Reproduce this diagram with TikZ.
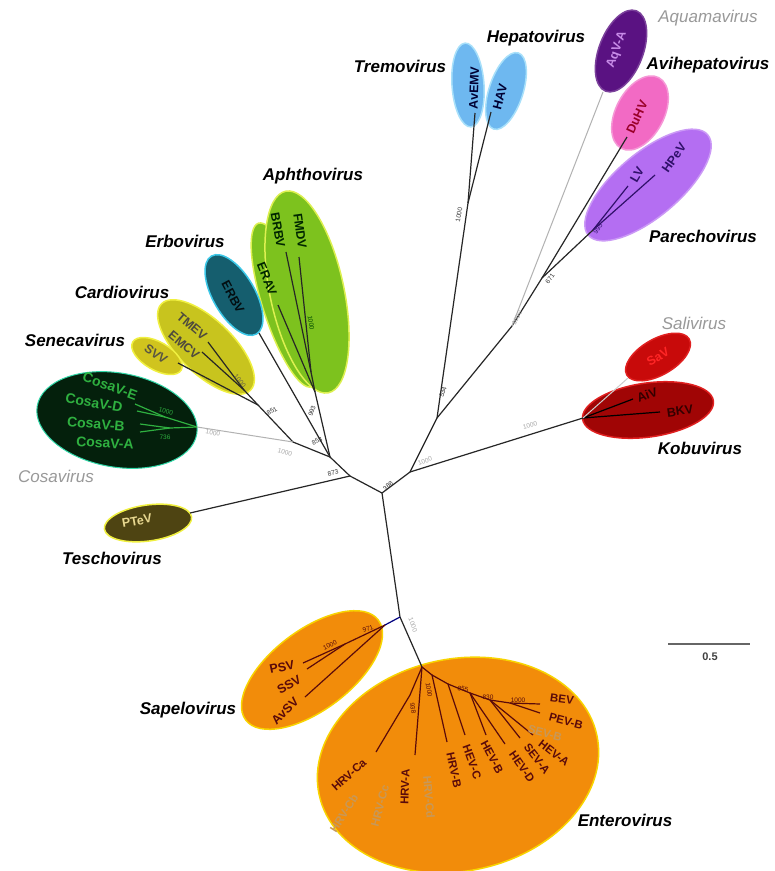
\documentclass[tikz,border=0pt]{standalone}
\usepackage{fontspec}
\setmainfont{Liberation Sans}
\usetikzlibrary{shapes.geometric}
\definecolor{cTremo}{HTML}{6EB8F0}
\definecolor{cTremoB}{HTML}{A8E0FA}
\definecolor{cAqua}{HTML}{5A1282}
\definecolor{cAquaT}{HTML}{C88CE8}
\definecolor{cAvi}{HTML}{F26AC4}
\definecolor{cAviT}{HTML}{9A0028}
\definecolor{cPare}{HTML}{B46EF2}
\definecolor{cPareT}{HTML}{30106A}
\definecolor{cSali}{HTML}{C80A0A}
\definecolor{cKobu}{HTML}{A00505}
\definecolor{cKobuB}{HTML}{E02020}
\definecolor{cAph}{HTML}{7DC21E}
\definecolor{cAphB}{HTML}{DDF050}
\definecolor{cErb}{HTML}{155E6E}
\definecolor{cErbB}{HTML}{3CC8E8}
\definecolor{cCard}{HTML}{C8C41E}
\definecolor{cCardB}{HTML}{F0F040}
\definecolor{cSene}{HTML}{D0C41E}
\definecolor{cCosa}{HTML}{04200C}
\definecolor{cCosaB}{HTML}{30D8A8}
\definecolor{cCosaT}{HTML}{2FB040}
\definecolor{cTesc}{HTML}{4E4412}
\definecolor{cTescT}{HTML}{E8D890}
\definecolor{cOra}{HTML}{F28C0A}
\definecolor{cOraB}{HTML}{F8D400}
\definecolor{cOraT}{HTML}{5A0A0A}
\definecolor{cFade}{HTML}{C89858}
\begin{document}
\begin{tikzpicture}[x=1pt,y=-1pt,
  clade/.style={ellipse, inner sep=0pt, line width=1.5pt},
  genus/.style={font=\bfseries\itshape\fontsize{17}{17}\selectfont, inner sep=0pt},
  tip/.style={font=\bfseries\fontsize{12.5}{13}\selectfont, inner sep=0pt},
  etip/.style={font=\bfseries\fontsize{11.5}{12}\selectfont, inner sep=0pt, text=cOraT},
  bs/.style={font=\fontsize{6.5}{7}\selectfont, inner sep=0pt, text=black!80},
  bsg/.style={bs, text=black!35},
  br/.style={line width=1.2pt, black!85},
  grbr/.style={line width=1pt, black!30},
  inbr/.style={line width=1.2pt, cOraT}]
\useasboundingbox (0,0) rectangle (775,871);
\fill[white] (0,0) rectangle (775,871);

% ---------- clade ellipses ----------
\node[clade, fill=cTremo, draw=cTremoB, minimum width=84pt, minimum height=32pt, rotate=94] (eTremo) at (468,85) {};
\node[clade, fill=cTremo, draw=cTremoB, minimum width=80pt, minimum height=34pt, rotate=72] (eHepa) at (506,91) {};
\node[clade, fill=cAqua, draw=cAqua!80!white, minimum width=86pt, minimum height=44pt, rotate=69] (eAqua) at (621,51) {};
\node[clade, fill=cAvi, draw=cAvi!70!white, minimum width=80pt, minimum height=48pt, rotate=62] (eAvi) at (640,113) {};
\node[clade, fill=cPare, draw=cPare!70!white, minimum width=156pt, minimum height=64pt, rotate=40] (ePare) at (648,185) {};
\node[clade, fill=cSali, draw=cKobuB, minimum width=72pt, minimum height=36pt, rotate=30] (eSali) at (658,357) {};
\node[clade, fill=cKobu, draw=cKobuB, minimum width=132pt, minimum height=54pt, rotate=8] (eKobu) at (648,410) {};
\node[clade, fill=cAph, draw=cAphB, minimum width=172pt, minimum height=44pt, rotate=108] (eErav) at (285,305) {};
\node[clade, fill=cAph, draw=cAphB, minimum width=206pt, minimum height=74pt, rotate=102] (eAph) at (307,292) {};
\node[clade, fill=cErb, draw=cErbB, minimum width=90pt, minimum height=42pt, rotate=120] (eErb) at (234,295) {};
\node[clade, fill=cCard, draw=cCardB, minimum width=124pt, minimum height=54pt, rotate=136] (eCard) at (206,347) {};
\node[clade, fill=cSene, draw=cCardB, minimum width=56pt, minimum height=28pt, rotate=150] (eSene) at (157,356) {};
\node[clade, fill=cCosa, draw=cCosaB, line width=1pt, minimum width=162pt, minimum height=94pt, rotate=-10] (eCosa) at (117,420) {};
\node[clade, fill=cTesc, draw=cCardB, minimum width=88pt, minimum height=36pt, rotate=8] (eTesc) at (148,523) {};
\node[clade, fill=cOra, draw=cOraB, minimum width=166pt, minimum height=80pt, rotate=37] (eSape) at (312,670) {};
\node[clade, fill=cOra, draw=cOraB, minimum width=284pt, minimum height=212pt, rotate=12] (eEnte) at (458,765) {};

% ---------- tree coordinates ----------
\coordinate (R) at (382,493);
\coordinate (K) at (410,472);
\coordinate (H) at (437,418);
\coordinate (TH) at (468,203);
\coordinate (tAvEMV) at (475,113);
\coordinate (tHAV) at (491,112);
\coordinate (P1) at (512,326);
\coordinate (tAqV) at (603,92);
\coordinate (P2) at (542,278);
\coordinate (tDuHV) at (627,137);
\coordinate (PN) at (593,230);
\coordinate (tLV) at (628,186);
\coordinate (tHPeV) at (655,175);
\coordinate (KB) at (583,418);
\coordinate (tAiV) at (633,399);
\coordinate (tBKV) at (660,412);
\coordinate (tSaV) at (628,378);
\coordinate (A) at (350,476);
\coordinate (tPTeV) at (190,513);
\coordinate (B) at (330,457);
\coordinate (F) at (318,405);
\coordinate (AF1) at (315,392);
\coordinate (tERAV) at (278,305);
\coordinate (AF2) at (311,372);
\coordinate (tFMDV) at (299,257);
\coordinate (tBRBV) at (286,252);
\coordinate (tERBV) at (259,333);
\coordinate (C) at (293,442);
\coordinate (CN) at (197,427);
\coordinate (CED) at (165,417);
\coordinate (tCosaE) at (135,404);
\coordinate (tCosaD) at (137,411);
\coordinate (CBA) at (170,428);
\coordinate (tCosaB) at (140,424);
\coordinate (tCosaA) at (140,432);
\coordinate (D) at (258,405);
\coordinate (tSVV) at (178,363);
\coordinate (CD) at (244,390);
\coordinate (tTMEV) at (208,342);
\coordinate (tEMCV) at (202,352);
\coordinate (S) at (400,617);
\coordinate (SP) at (385,625);
\coordinate (SP2) at (345,644);
\coordinate (tPSV) at (303,663);
\coordinate (tSSV) at (307,669);
\coordinate (tAvSV) at (305,697);
\coordinate (EN) at (422,667);
\coordinate (EC) at (410,695);
\coordinate (tHRVCa) at (376,752);
\coordinate (tHRVA) at (415,755);
\coordinate (E1) at (432,675);
\coordinate (tHRVB) at (447,742);
\coordinate (E2) at (448,684);
\coordinate (tHEVC) at (465,735);
\coordinate (E3) at (470,693);
\coordinate (tHEVB) at (486,735);
\coordinate (tHEVD) at (505,744);
\coordinate (E4) at (490,700);
\coordinate (tSEVA) at (520,738);
\coordinate (tHEVA) at (533,735);
\coordinate (E5) at (510,703);
\coordinate (tBEV) at (540,704);
\coordinate (tPEVB) at (540,713);

% ---------- branches ----------
\draw[br] (R) -- (K) -- (H) -- (TH);
\draw[br] (TH) -- (tAvEMV);
\draw[br] (TH) -- (tHAV);
\draw[br] (H) -- (P1) -- (P2) -- (PN);
\draw[grbr] (P1) -- (tAqV);
\draw[br] (P2) -- (tDuHV);
\draw[br, cPareT] (PN) -- (tLV);
\draw[br, cPareT] (PN) -- (tHPeV);
\draw[br] (K) -- (KB);
\draw[br, black] (KB) -- (tAiV);
\draw[br, black] (KB) -- (tBKV);
\draw[grbr, black!20] (KB) -- (tSaV);
\draw[br] (R) -- (A) -- (tPTeV);
\draw[br] (A) -- (B) -- (F) -- (AF1) -- (tERAV);
\draw[br] (AF1) -- (AF2) -- (tFMDV);
\draw[br] (AF2) -- (tBRBV);
\draw[br] (B) -- (tERBV);
\draw[br] (B) -- (C) -- (D) -- (tSVV);
\draw[br] (D) -- (CD) -- (tTMEV);
\draw[br] (CD) -- (tEMCV);
\draw[grbr] (C) -- (CN);
\draw[br, cCosaT] (CN) -- (CED) -- (tCosaE);
\draw[br, cCosaT] (CED) -- (tCosaD);
\draw[br, cCosaT] (CN) -- (CBA) -- (tCosaB);
\draw[br, cCosaT] (CBA) -- (tCosaA);
\draw[br] (R) -- (S) -- (EN);
\draw[br, black!50!blue] (S) -- (SP);
\draw[inbr] (SP) -- (SP2) -- (tPSV);
\draw[inbr] (SP2) -- (tSSV);
\draw[inbr] (SP) -- (tAvSV);
\draw[inbr] (EN) -- (EC) -- (tHRVCa);
\draw[inbr] (EN) -- (tHRVA);
\draw[inbr] (EN) -- (E1) -- (tHRVB);
\draw[inbr] (E1) -- (E2) -- (tHEVC);
\draw[inbr] (E2) -- (E3) -- (tHEVB);
\draw[inbr] (E3) -- (tHEVD);
\draw[inbr] (E3) -- (E4) -- (tSEVA);
\draw[inbr] (E4) -- (tHEVA);
\draw[inbr] (E4) -- (E5) -- (tBEV);
\draw[inbr] (E5) -- (tPEVB);

% ---------- tip labels ----------
\node[tip, text=black!80!blue, rotate=88] (lAvEMV) at (474,88) {AvEMV};
\node[tip, text=black!80!blue, rotate=75] (lHAV) at (500,97) {HAV};
\node[tip, text=cAquaT, rotate=70] (lAqV) at (617,50) {AqV-A};
\node[tip, text=cAviT, rotate=65] (lDuHV) at (637,117) {DuHV};
\node[tip, text=cPareT, rotate=60] (lLV) at (637,175) {LV};
\node[tip, text=cPareT, rotate=55] (lHPeV) at (674,158) {HPeV};
\node[tip, text=black!80!red, rotate=20] (lAiV) at (647,395) {AiV};
\node[tip, text=black!80!red, rotate=8] (lBKV) at (680,411) {BKV};
\node[tip, text=red!85!white, rotate=30] (lSaV) at (658,357) {SaV};
\node[tip, text=black!85!green, rotate=-82] (lFMDV) at (300,231) {FMDV};
\node[tip, text=black!85!green, rotate=-80] (lBRBV) at (278,230) {BRBV};
\node[tip, text=black!85!green, rotate=-68] (lERAV) at (267,279) {ERAV};
\node[tip, text=black!85!cErb, rotate=-62] (lERBV) at (233,297) {ERBV};
\node[tip, text=black!80!yellow, rotate=-40] (lTMEV) at (192,326) {TMEV};
\node[tip, text=black!80!yellow, rotate=-40] (lEMCV) at (184,345) {EMCV};
\node[tip, text=black!75!yellow, rotate=-35] (lSVV) at (156,354) {SVV};
\node[tip, font=\bfseries\fontsize{14}{14}\selectfont, text=cCosaT, rotate=-20] (lCosaE) at (110,386) {CosaV-E};
\node[tip, font=\bfseries\fontsize{14}{14}\selectfont, text=cCosaT, rotate=-10] (lCosaD) at (94,403) {CosaV-D};
\node[tip, font=\bfseries\fontsize{14}{14}\selectfont, text=cCosaT, rotate=-5] (lCosaB) at (96,424) {CosaV-B};
\node[tip, font=\bfseries\fontsize{14}{14}\selectfont, text=cCosaT, rotate=-3] (lCosaA) at (105,443) {CosaV-A};
\node[tip, text=cTescT, rotate=10] (lPTeV) at (137,521) {PTeV};
\node[tip, text=cOraT, rotate=12] (lPSV) at (282,667) {PSV};
\node[tip, text=cOraT, rotate=30] (lSSV) at (289,685) {SSV};
\node[tip, text=cOraT, rotate=45] (lAvSV) at (285,711) {AvSV};
\node[etip, rotate=-8] (lBEV) at (562,699) {BEV};
\node[etip, rotate=-15] (lPEVB) at (566,721) {PEV-B};
\node[etip, text=cFade, rotate=-15] (lSEVB) at (545,733) {SEV-B};
\node[etip, rotate=-38] (lHEVA) at (554,753) {HEV-A};
\node[etip, rotate=-52] (lSEVA) at (537,759) {SEV-A};
\node[etip, rotate=-55] (lHEVD) at (522,767) {HEV-D};
\node[etip, rotate=-62] (lHEVB) at (492,757) {HEV-B};
\node[etip, rotate=-70] (lHEVC) at (472,762) {HEV-C};
\node[etip, rotate=-78] (lHRVB) at (454,770) {HRV-B};
\node[etip, rotate=88] (lHRVA) at (405,787) {HRV-A};
\node[etip, text=cFade, rotate=-85] (lHRVCd) at (429,797) {HRV-Cd};
\node[etip, rotate=42] (lHRVCa) at (349,775) {HRV-Ca};
\node[etip, text=cFade, rotate=58] (lHRVCb) at (344,813) {HRV-Cb};
\node[etip, text=cFade, rotate=75] (lHRVCc) at (380,806) {HRV-Cc};

% ---------- bootstrap values ----------
\node[bs, rotate=40] (b388) at (388,486) {388};
\node[bsg, rotate=20] (b1000k) at (425,461) {1000};
\node[bs, rotate=70] (b534) at (443,392) {534};
\node[bs, rotate=80] (b1000th) at (459,215) {1000};
\node[bs, rotate=55] (b671) at (550,279) {671};
\node[bsg, rotate=60] (b1000aq) at (517,318) {1000};
\node[bs, text=cPareT, rotate=55] (b995) at (598,229) {995};
\node[bsg, rotate=15] (b1000kb) at (530,425) {1000};
\node[bs, rotate=15] (b873) at (333,473) {873};
\node[bs, rotate=25] (b853) at (317,441) {853};
\node[bs, rotate=70] (b993) at (312,411) {993};
\node[bs, rotate=30] (b851) at (272,411) {851};
\node[bsg, rotate=-10] (b1000co) at (213,433) {1000};
\node[bsg, rotate=-15] (b1000c) at (285,452) {1000};
\node[bs, text=black!70!green, rotate=-80] (b1000ap) at (311,323) {1000};
\node[bs, text=black!70!yellow, rotate=-50] (b1000ca) at (240,381) {1000};
\node[bs, text=cCosaT, rotate=-15] (b1000cs) at (166,411) {1000};
\node[bs, text=cCosaT] (b736) at (165,437) {736};
\node[bsg, rotate=-70] (b1000s) at (413,625) {1000};
\node[bs, text=cOraT, rotate=25] (b1000sp) at (330,645) {1000};
\node[bs, text=cOraT, rotate=20] (b971) at (368,629) {971};
\node[bs, text=cOraT, rotate=-80] (b1000e) at (429,690) {1000};
\node[bs, text=cOraT, rotate=-80] (b938) at (413,708) {938};
\node[bs, text=cOraT, rotate=-10] (b855) at (463,689) {855};
\node[bs, text=cOraT] (b830) at (488,697) {830};
\node[bs, text=cOraT] (b1000ee) at (518,700) {1000};

% ---------- genus labels ----------
\node[genus] (gTremo) at (400,66) {Tremovirus};
\node[genus] (gHepa) at (536,38) {Hepatovirus};
\node[genus, text=black!40, font=\itshape\fontsize{17}{17}\selectfont] (gAqua) at (708,18) {Aquamavirus};
\node[genus] (gAvi) at (708,65) {Avihepatovirus};
\node[genus] (gPare) at (703,236) {Parechovirus};
\node[genus, text=black!40, font=\itshape\fontsize{17}{17}\selectfont] (gSali) at (694,323) {Salivirus};
\node[genus] (gKobu) at (700,448) {Kobuvirus};
\node[genus] (gEnte) at (625,820) {Enterovirus};
\node[genus] (gSape) at (188,710) {Sapelovirus};
\node[genus] (gTesc) at (112,558) {Teschovirus};
\node[genus, text=black!40, font=\itshape\fontsize{17}{17}\selectfont] (gCosa) at (56,476) {Cosavirus};
\node[genus] (gSene) at (75,340) {Senecavirus};
\node[genus] (gCard) at (122,292) {Cardiovirus};
\node[genus] (gErb) at (185,241) {Erbovirus};
\node[genus] (gAph) at (313,176) {Aphthovirus};

% ---------- scale bar ----------
\coordinate (sb1) at (668,644);
\coordinate (sb2) at (750,644);
\draw[line width=1.5pt, black!60] (sb1) -- (sb2);
\node[font=\bfseries\fontsize{11}{11}\selectfont, text=black!75, inner sep=0pt] (sbl) at (710,657) {0.5};
\end{tikzpicture}
\end{document}
